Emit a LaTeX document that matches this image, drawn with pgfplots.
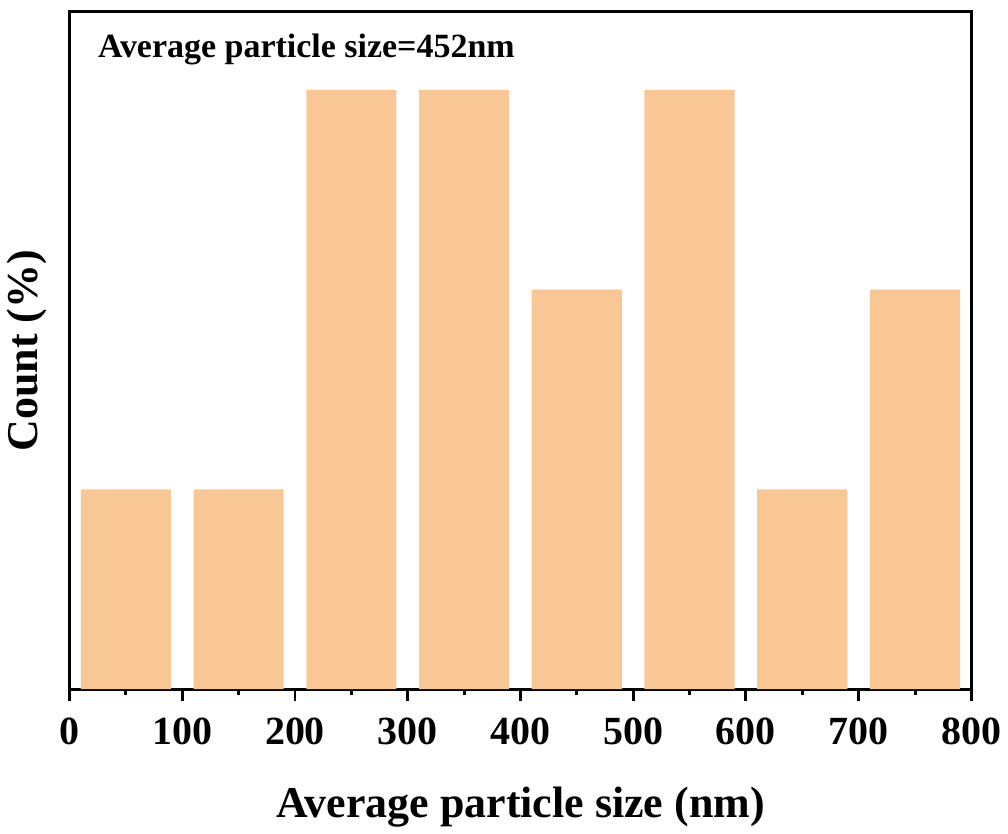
\documentclass[border=0pt]{standalone}
\usepackage{fontspec}
\setmainfont{Liberation Serif}
\usepackage{pgfplots}
\pgfplotsset{compat=1.18}
\definecolor{barfill}{RGB}{249,199,150}

\begin{document}
\begin{tikzpicture}
\begin{axis}[
    width=451.5pt, height=339pt,
    scale only axis,
    xmin=0, xmax=800,
    ymin=0, ymax=3.39,
    xtick={0,100,...,800},
    minor x tick num=1,
    ytick=\empty,
    xtick pos=bottom,
    tick align=outside,
    major tick length=6pt,
    minor tick length=3pt,
    every tick/.style={line width=1.5pt, black},
    axis line style={line width=1.5pt},
    ticklabel style={font=\fontsize{20}{24}\selectfont\bfseries},
    /pgf/number format/assume math mode=true,
    xticklabel style={yshift=-5pt},
    xlabel={Average particle size (nm)},
    ylabel={Count (\%)},
    label style={font=\fontsize{22}{26}\selectfont\bfseries},
    xlabel style={yshift=-14pt},
    ylabel style={yshift=2pt},
    clip=false,
]
\addplot[ybar, bar width=80, bar shift=0pt, fill=barfill, draw=none]
coordinates {(50,1) (150,1) (250,3) (350,3) (450,2) (550,3) (650,1) (750,2)};
\node[anchor=west, font=\fontsize{17}{20}\selectfont\bfseries]
    at (axis cs:19,3.2) {Average particle size=452nm};
\path (rel axis cs:0,1) ++(0,6pt);
\end{axis}
\end{tikzpicture}
\end{document}
